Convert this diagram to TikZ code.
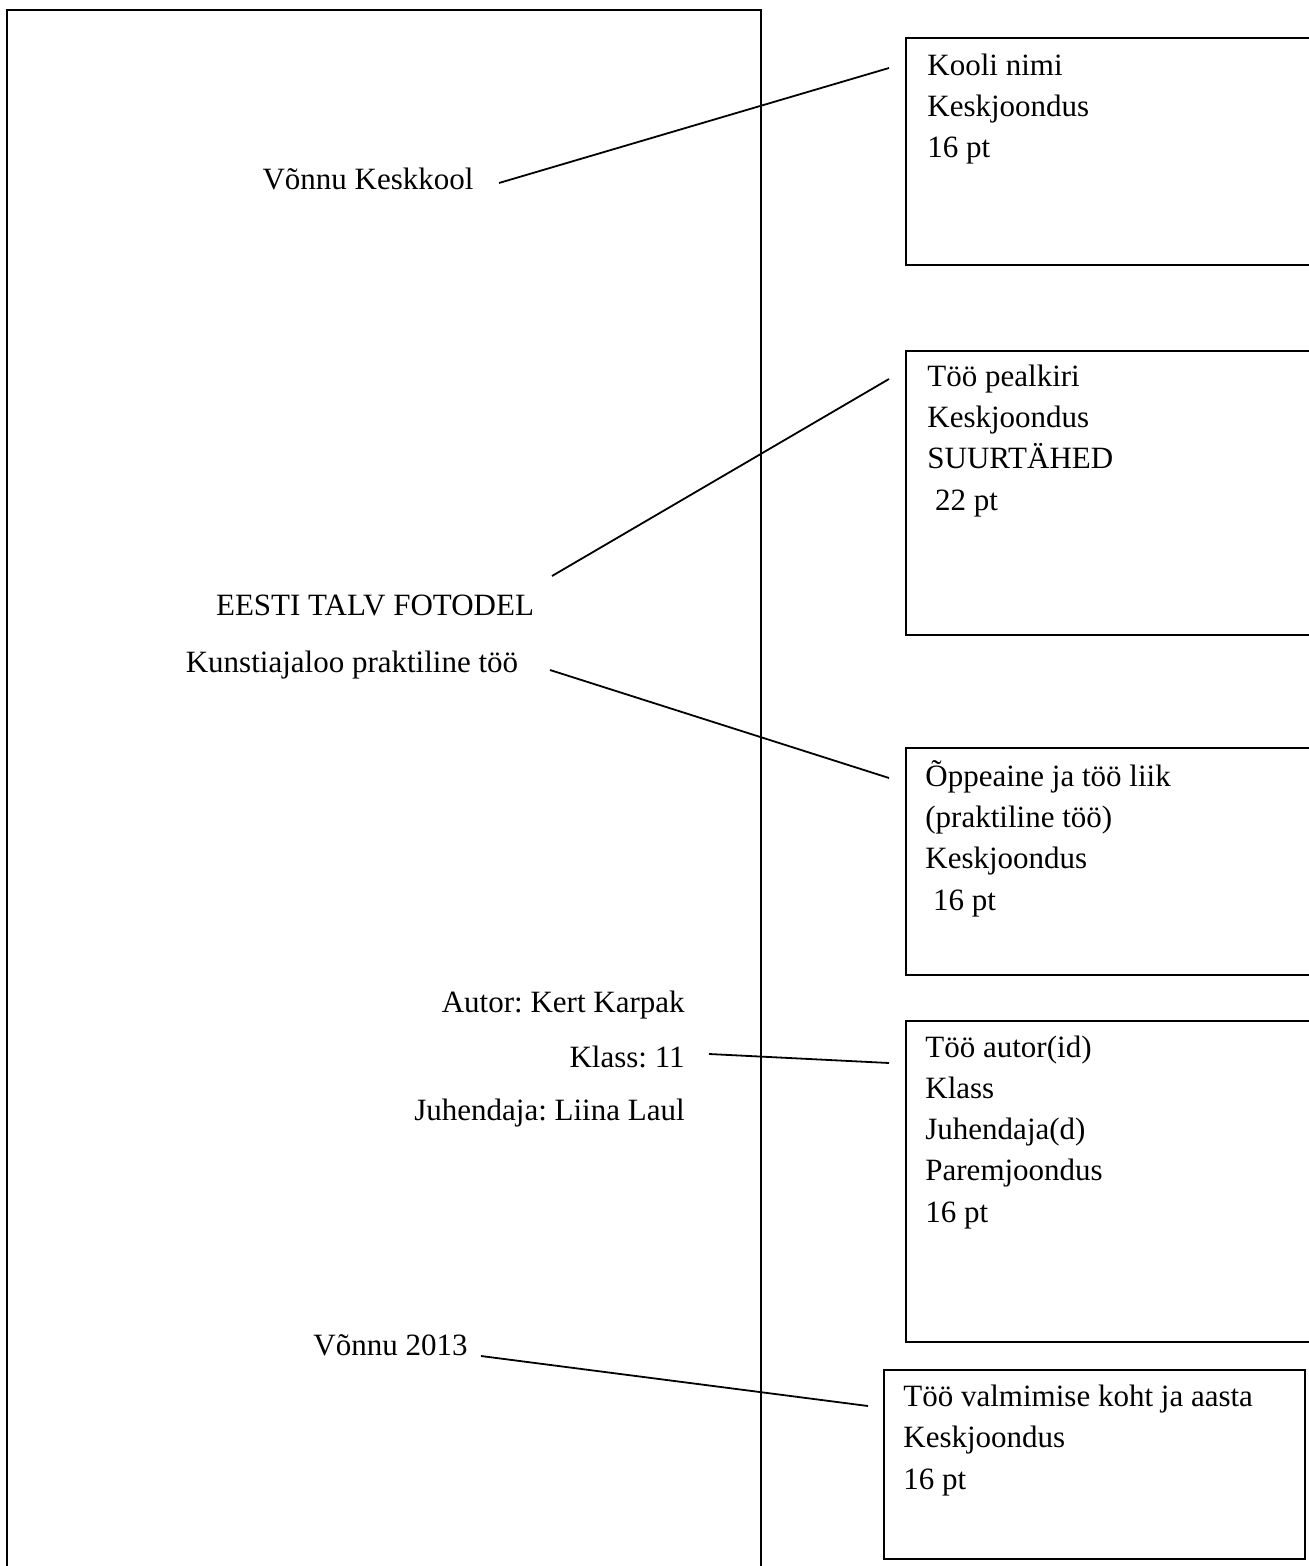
\documentclass[tikz,border=0pt]{standalone}
\usepackage{fontspec}
\setmainfont{Liberation Serif}
\frenchspacing
\begin{document}
\begin{tikzpicture}[x=0.5pt,y=-0.5pt,
  frame/.style={draw=black,line width=1pt},
  infobox/.style={draw=black,line width=1pt,rectangle,anchor=north west,inner sep=0pt},
  boxtext/.style={anchor=base west,align=left,inner sep=0pt,font=\fontsize{15.5}{20.6}\selectfont},
  pagetext/.style={inner sep=0pt,font=\fontsize{15.5}{20.6}\selectfont},
  leader/.style={draw=black,line width=0.9pt}]
\useasboundingbox (0,0) rectangle (1308,1566);
% page outline (bottom is off the picture)
\draw[frame] (7,1580) -- (7,10) -- (761,10) -- (761,1580);

% page texts
\node[pagetext,anchor=base] (school) at (368,190) {Võnnu Keskkool};
\node[pagetext,anchor=base] (title) at (375,615) {EESTI TALV FOTODEL};
\node[pagetext,anchor=base] (subject) at (352,672) {Kunstiajaloo praktiline töö};
\node[pagetext,anchor=base east] (author) at (685,1012) {Autor: Kert Karpak};
\node[pagetext,anchor=base east] (class) at (685,1067) {Klass: 11};
\node[pagetext,anchor=base east] (advisor) at (685,1120) {Juhendaja: Liina Laul};
\node[pagetext,anchor=base west] (place) at (313,1355) {Võnnu 2013};

% explanation boxes
\node[infobox,minimum width=430*0.5pt,minimum height=227*0.5pt] (b1) at (905,37) {};
\node[infobox,minimum width=430*0.5pt,minimum height=284*0.5pt] (b2) at (905,350) {};
\node[infobox,minimum width=430*0.5pt,minimum height=227*0.5pt] (b3) at (905,747) {};
\node[infobox,minimum width=430*0.5pt,minimum height=321*0.5pt] (b4) at (905,1020) {};
\node[infobox,minimum width=421*0.5pt,minimum height=189*0.5pt] (b5) at (883,1369) {};

% texts in the boxes (anchored at the baseline of their last line)
\node[boxtext] (t1) at (927,158) {Kooli nimi\\Keskjoondus\\16 pt};
\node[boxtext] (t2) at (927,510) {Töö pealkiri\\Keskjoondus\\SUURTÄHED\\\ 22 pt};
\node[boxtext] (t3) at (925,910) {Õppeaine ja töö liik\\(praktiline töö)\\Keskjoondus\\\ 16 pt};
\node[boxtext] (t4) at (925,1222) {Töö autor(id)\\Klass\\Juhendaja(d)\\Paremjoondus\\16 pt};
\node[boxtext] (t5) at (903,1489) {Töö valmimise koht ja aasta\\Keskjoondus\\16 pt};

% connector ends
\coordinate (s1) at (499,183);
\coordinate (e1) at (889,68);
\coordinate (s2) at (552,576);
\coordinate (e2) at (889,379);
\coordinate (s3) at (550,670);
\coordinate (e3) at (889,778);
\coordinate (s4) at (709,1054);
\coordinate (e4) at (889,1063);
\coordinate (s5) at (481,1356);
\coordinate (e5) at (868,1406);

\draw[leader] (s1) -- (e1);
\draw[leader] (s2) -- (e2);
\draw[leader] (s3) -- (e3);
\draw[leader] (s4) -- (e4);
\draw[leader] (s5) -- (e5);
\end{tikzpicture}
\end{document}
